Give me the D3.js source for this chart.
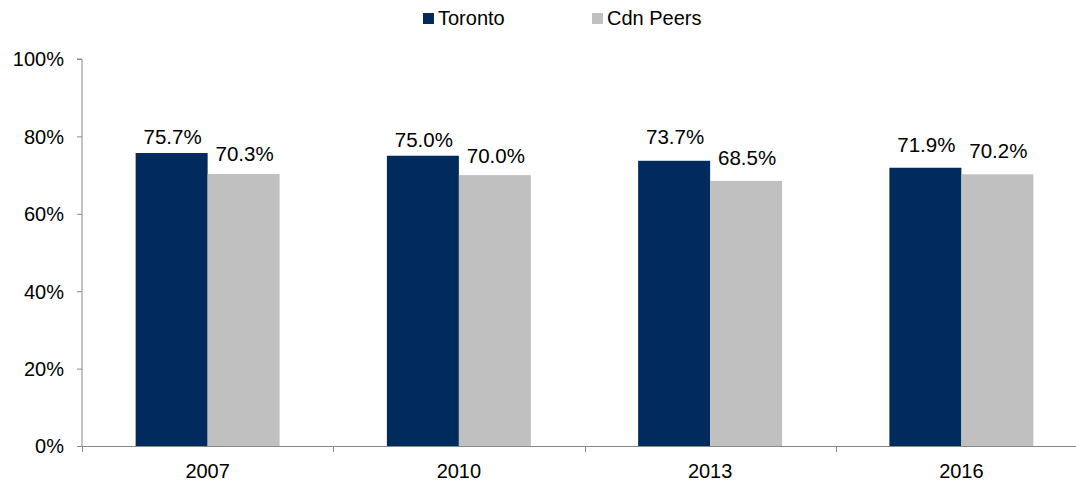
<!DOCTYPE html>
<html>
<head>
<meta charset="utf-8">
<script src="https://d3js.org/d3.v7.min.js"></script>
<style>
  html, body { margin: 0; padding: 0; background: #fff; overflow: hidden; }
  svg { display: block; font-family: "Liberation Sans", Arial, sans-serif; }
</style>
</head>
<body>
<svg id="chart" width="1076" height="483"></svg>
<script>
// Share of value, Toronto vs. Canadian peers
const years = ["2007", "2010", "2013", "2016"];
const seriesNames = ["Toronto", "Cdn Peers"];
const toronto = [75.7, 75.0, 73.7, 71.9];
const cdnPeers = [70.3, 70.0, 68.5, 70.2];
const yTicks = [0, 20, 40, 60, 80, 100];
const colors = ["#002B5C", "#C0C0C0"];

// gap (px) between each bar top and its value label baseline
const labelGap = [[9, 8.7, 16.7, 15.6], [12.6, 12.3, 15.5, 16.6]];

const svg = d3.select("#chart");
const margin = { left: 82, top: 59, bottom: 446, right: 1087 };

const x = d3.scaleBand().domain(years).range([margin.left, margin.right]).paddingInner(0).paddingOuter(0);
const xSub = d3.scaleBand().domain(seriesNames).range([0, x.bandwidth()]).paddingInner(0).paddingOuter(0.745);
const y = d3.scaleLinear().domain([0, 100]).range([margin.bottom, margin.top]);

const axisColor = "#898989";

// bars
const series = [toronto, cdnPeers];
const groups = svg.append("g").selectAll("g")
  .data(years)
  .join("g")
  .attr("transform", d => `translate(${x(d)},0)`);

seriesNames.forEach((name, si) => {
  groups.append("rect")
    .attr("x", (d, i) => xSub(name))
    .attr("y", (d, i) => y(series[si][i]))
    .attr("width", xSub.bandwidth())
    .attr("height", (d, i) => y(0) - y(series[si][i]))
    .attr("fill", colors[si]);
  groups.append("text")
    .attr("x", (d, i) => xSub(name) + xSub.bandwidth() / 2 + 1)
    .attr("y", (d, i) => y(series[si][i]) - labelGap[si][i])
    .attr("text-anchor", "middle")
    .attr("font-size", 20.5)
    .attr("fill", "#000")
    .text((d, i) => series[si][i].toFixed(1) + "%");
});

// y axis
const yAxis = svg.append("g").attr("transform", `translate(${margin.left},0)`)
  .call(d3.axisLeft(y).tickValues(yTicks).tickSize(5).tickPadding(13).tickFormat(d => d + "%"));
yAxis.selectAll("path, line").attr("stroke", axisColor).attr("stroke-width", 1);
yAxis.select(".domain").attr("d", `M-5,${y(100)}H0V${y(0)}`);
yAxis.selectAll("text").attr("font-size", 20).attr("fill", "#000").attr("font-family", "Liberation Sans, Arial, sans-serif").attr("dy", "0.34em");

// x axis with ticks at category boundaries
const xAxisG = svg.append("g").attr("transform", `translate(0,${margin.bottom})`);
xAxisG.append("line")
  .attr("x1", margin.left).attr("x2", margin.right)
  .attr("y1", 0.5).attr("y2", 0.5)
  .attr("stroke", axisColor);
const boundaries = years.map(d => x(d)).concat([x(years[years.length - 1]) + x.bandwidth()]);
xAxisG.selectAll("line.b").data(boundaries).join("line")
  .attr("class", "b")
  .attr("x1", d => Math.round(d) + 0.5).attr("x2", d => Math.round(d) + 0.5)
  .attr("y1", 0).attr("y2", 6)
  .attr("stroke", axisColor);
xAxisG.selectAll("text").data(years).join("text")
  .attr("x", d => x(d) + x.bandwidth() / 2)
  .attr("y", 32)
  .attr("text-anchor", "middle")
  .attr("font-size", 20)
  .attr("fill", "#000")
  .text(d => d);

// legend
const legendX = [423, 592];
const legend = svg.append("g");
seriesNames.forEach((name, i) => {
  legend.append("rect")
    .attr("x", legendX[i]).attr("y", 13)
    .attr("width", 11).attr("height", 11)
    .attr("fill", colors[i]);
  legend.append("text")
    .attr("x", legendX[i] + 15).attr("y", 25)
    .attr("font-size", 20)
    .attr("fill", "#000")
    .text(name);
});
</script>
</body>
</html>
